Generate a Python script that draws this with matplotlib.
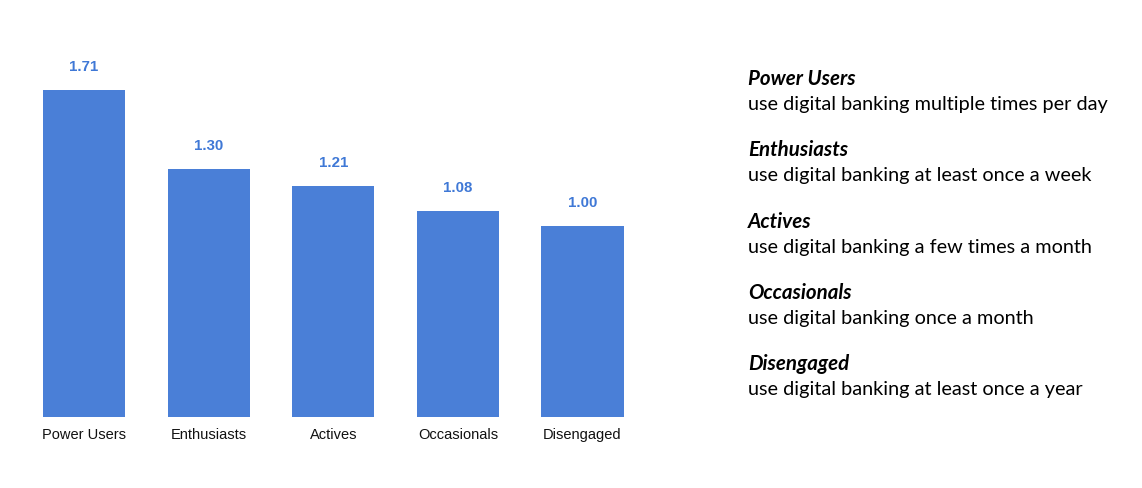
import matplotlib.pyplot as plt
import numpy as np

categories = ["Power Users", "Enthusiasts", "Actives", "Occasionals", "Disengaged"]
values = [1.71, 1.30, 1.21, 1.08, 1.00]
value_labels = ["1.71", "1.30", "1.21", "1.08", "1.00"]
descriptions = [
    "use digital banking multiple times per day",
    "use digital banking at least once a week",
    "use digital banking a few times a month",
    "use digital banking once a month",
    "use digital banking at least once a year",
]

BAR_COLOR = "#4a7fd7"
LABEL_COLOR = "#3f78d6"
W, H = 1142, 488

fig = plt.figure(figsize=(W / 100, H / 100), dpi=100)
# axes placed in pixel coordinates
left, right, bottom, top = 21.7, 644.8, 417, 40
ax = fig.add_axes([left / W, (H - bottom) / H, (right - left) / W, (bottom - top) / H])

x = np.arange(len(categories))
ax.bar(x, values, width=0.66, color=BAR_COLOR)
ax.set_xlim(-0.5, 4.5)
px_per_unit = 191
ax.set_ylim(0, (bottom - top) / px_per_unit)

for xi, v, lab in zip(x, values, value_labels):
    ax.text(xi, v + 23 / px_per_unit, lab, ha="center", va="center",
            color=LABEL_COLOR, fontsize=10.8, fontweight="bold",
            family="Liberation Sans")

ax.set_xticks(x)
ax.set_xticklabels(categories, fontsize=10.5, family="Liberation Sans", color="#111111")
ax.tick_params(axis="x", length=0, pad=8)
ax.set_yticks([])
for s in ax.spines.values():
    s.set_visible(False)

# legend-like text block on the right
for i, (name, desc) in enumerate(zip(categories, descriptions)):
    yb = 85 + 71.3 * i
    fig.text(748 / W, 1 - yb / H, name, ha="left", va="baseline", fontsize=14.8,
             fontweight="bold", fontstyle="italic", family="Lato", color="black")
    fig.text(748 / W, 1 - (yb + 25) / H, desc, ha="left", va="baseline", fontsize=14.3,
             family="Lato", color="black")

fig.savefig("out.png", dpi=100)
